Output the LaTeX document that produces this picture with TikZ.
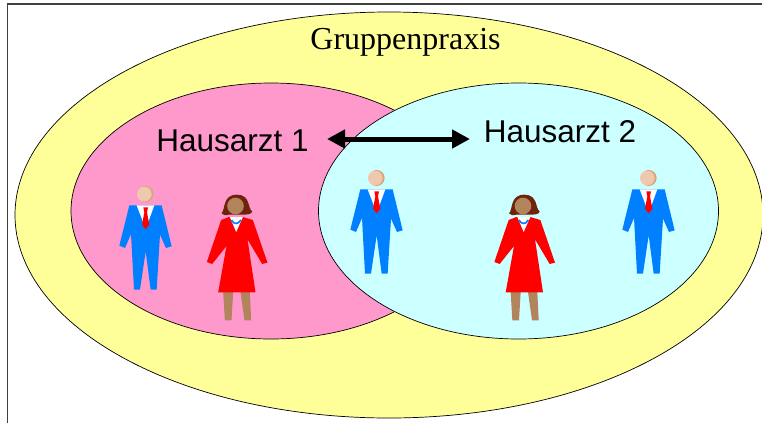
\documentclass[tikz,border=0pt]{standalone}
\usepackage{fontspec}
\setmainfont{Liberation Serif}
\newfontfamily\lsans{Liberation Sans}
\usetikzlibrary{arrows.meta}
\definecolor{outery}{RGB}{255,255,153}
\definecolor{pinkf}{RGB}{255,153,204}
\definecolor{cyanf}{RGB}{204,255,255}
\definecolor{suit}{RGB}{0,128,255}
\definecolor{mskin}{RGB}{238,200,175}
\definecolor{mshade}{RGB}{215,165,120}
\definecolor{wskin}{RGB}{178,132,92}
\definecolor{whair}{RGB}{110,35,10}
\tikzset{
  x=1pt,y=-1pt,
  venn/.style={draw=black,line width=0.7pt},
  man/.pic={
    \begin{scope}[x=0.3333pt,y=-0.3333pt]
      \fill[mshade] (2,0) circle [radius=24];
      \fill[mskin] (-2,0) circle [radius=22];
      \fill[suit] (-47,34) -- (50,34) -- (80,157) -- (63,162) -- (45,122) -- (35,287) -- (17,287) -- (2,172) -- (-15,287) -- (-33,287) -- (-42,120) -- (-60,162) -- (-77,155) -- cycle;
      \fill[white] (-25,34) -- (28,34) -- (2,105) -- cycle;
      \fill[red] (-5,40) -- (9,40) -- (6,55) -- (13,92) -- (2,106) -- (-9,92) -- (-2,55) -- cycle;
    \end{scope}
  },
  woman/.pic={
    \begin{scope}[x=0.3333pt,y=-0.3333pt]
      \fill[whair] (-42,22) .. controls (-30,12) and (-40,-34) .. (4,-34) .. controls (46,-34) and (36,8) .. (50,16) .. controls (50,26) and (30,26) .. (20,26) -- (-20,26) .. controls (-30,28) and (-38,28) .. (-42,22) -- cycle;
      \fill[wskin] (0,0) circle [radius=25];
      \fill[wskin] (-37,258) -- (-7,258) -- (-12,343) -- (-32,343) -- cycle;
      \fill[wskin] (15,258) -- (43,258) -- (47,343) -- (27,343) -- cycle;
      \fill[red] (-20,33) -- (22,33) -- (52,42) -- (96,170) -- (80,174) -- (36,100) -- (60,259) -- (-52,259) -- (-27,120) -- (-70,174) -- (-86,168) -- (-43,42) -- cycle;
      \fill[white] (-17,33) -- (22,33) -- (2,78) -- cycle;
      \draw[suit,line width=1.6pt] (-12,42) .. controls (-5,56) and (8,56) .. (16,42);
    \end{scope}
  }
}
\begin{document}
\begin{tikzpicture}
  \useasboundingbox (0,0) rectangle (762,423);
  \fill[white] (0,0) rectangle (762,423);
  \coordinate (frameBL) at (7.5,423);
  \coordinate (frameTL) at (7.5,4);
  \coordinate (frameTR) at (762,4);
  \draw[black!75,line width=1.2pt] (frameBL) -- (frameTL) -- (frameTR);
  \draw[venn,fill=outery] (389,215) ellipse [x radius=374,y radius=203];
  \draw[venn,fill=pinkf] (271,211) ellipse [x radius=200,y radius=128];
  \draw[venn,fill=cyanf] (518.5,211) ellipse [x radius=200,y radius=128];
  \node[font=\fontsize{32}{36}\selectfont,inner sep=0pt] (title) at (405.5,42) {Gruppenpraxis};
  \node[font=\lsans\fontsize{31.5}{36}\selectfont,inner sep=0pt] (ha1) at (232.5,141) {Hausarzt 1};
  \node[font=\lsans\fontsize{31.5}{36}\selectfont,inner sep=0pt] (ha2) at (560,132) {Hausarzt 2};
  \coordinate (arrL) at (327,139);
  \coordinate (arrR) at (470,139);
  \draw[{Triangle[length=18pt,width=18pt]}-{Triangle[length=18pt,width=18pt]},line width=5pt] (arrL) -- (arrR);
  \pic at (145,194) {man};
  \pic at (376,178) {man};
  \pic at (648,178) {man};
  \pic at (235.5,206) {woman};
  \pic at (523,206) {woman};
\end{tikzpicture}
\end{document}
